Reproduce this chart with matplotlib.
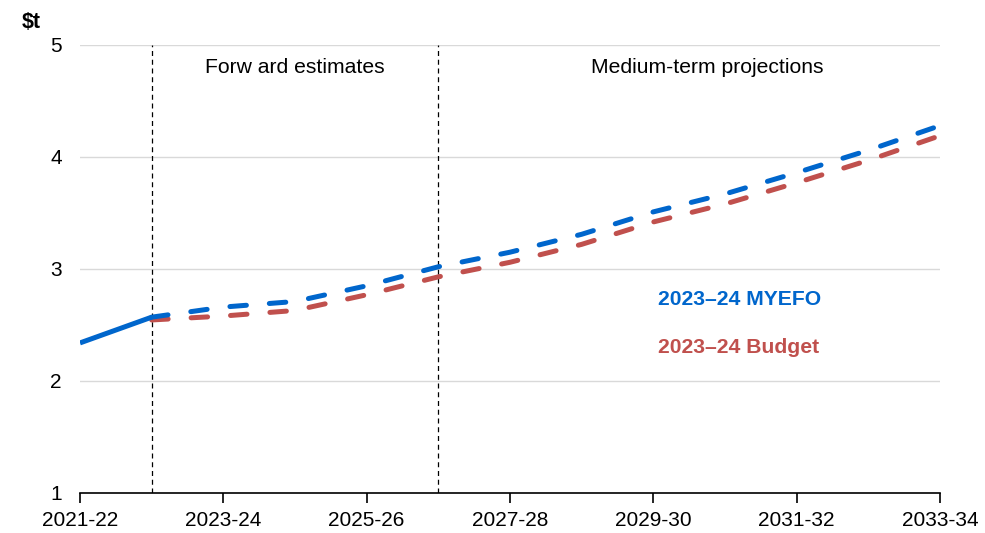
import matplotlib
matplotlib.use("Agg")
import matplotlib.pyplot as plt

plt.rcParams['font.family'] = ['Liberation Sans', 'DejaVu Sans']

# Financial years on the x axis
years = ["2021-22", "2022-23", "2023-24", "2024-25", "2025-26", "2026-27", "2027-28",
         "2028-29", "2029-30", "2030-31", "2031-32", "2032-33", "2033-34"]
tick_labels = ["2021-22", "2023-24", "2025-26", "2027-28", "2029-30", "2031-32", "2033-34"]

# Gross debt, $ trillion
myefo_actual = [2.34, 2.57]
myefo_proj = [2.57, 2.66, 2.71, 2.85, 3.02, 3.15, 3.31, 3.51, 3.67, 3.86, 4.06, 4.28]
budget_proj = [2.545, 2.58, 2.63, 2.77, 2.93, 3.06, 3.22, 3.42, 3.58, 3.77, 3.97, 4.19]

blue = "#0066CC"
red = "#C0504D"

fig = plt.figure(figsize=(9.85, 5.33), dpi=100)
ax = fig.add_axes([80 / 985, 40 / 533, 860 / 985, 448 / 533])

x_all = list(range(len(years)))
x_proj = x_all[1:]

dash = (3.3, 4.6)
ax.plot(x_proj, budget_proj, color=red, lw=3.6, dashes=dash,
        dash_capstyle="round", solid_capstyle="round", zorder=3)
ax.plot(x_proj, myefo_proj, color=blue, lw=3.6, dashes=dash,
        dash_capstyle="round", solid_capstyle="round", zorder=4)
ax.plot(x_all[:2], myefo_actual, color=blue, lw=3.6, solid_capstyle="butt", zorder=5)

# Period dividers
for xv in (1, 5):
    ax.axvline(xv, color="black", lw=0.9, ls=(0, (4, 3)), zorder=2)

ax.set_xlim(0, 12)
ax.set_ylim(1, 5)
ax.set_yticks([1, 2, 3, 4, 5])
ax.set_xticks([years.index(t) for t in tick_labels])
ax.set_xticklabels(tick_labels)
ax.grid(axis="y", color="#D9D9D9", lw=1.0, zorder=0)
ax.set_axisbelow(True)

for s in ("top", "right", "left"):
    ax.spines[s].set_visible(False)
ax.spines["bottom"].set_color("black")
ax.spines["bottom"].set_linewidth(1.2)
ax.tick_params(axis="x", direction="out", length=7, width=1.2, labelsize=15, pad=6)
ax.tick_params(axis="y", length=0, labelsize=15, pad=13)

ax.text(3, 4.8, "Forw ard estimates", ha="center", va="center", fontsize=15.2)
ax.text(8.75, 4.8, "Medium-term projections", ha="center", va="center", fontsize=15.2)

ax.text(8.06, 2.73, "2023–24 MYEFO", color=blue, fontsize=15.2, fontweight="bold",
        ha="left", va="center")
ax.text(8.06, 2.3, "2023–24 Budget", color=red, fontsize=15.2, fontweight="bold",
        ha="left", va="center")

fig.text(22 / 985, 1 - 23 / 533, "$t", fontsize=15.5, fontweight="bold",
         ha="left", va="center")

fig.savefig("out.png", dpi=100)
